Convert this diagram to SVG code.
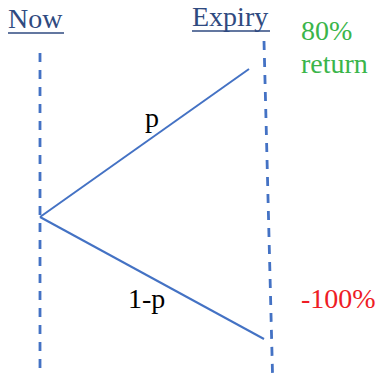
<svg xmlns="http://www.w3.org/2000/svg" width="378" height="373" viewBox="0 0 378 373">
<style>
text{font-family:"Liberation Serif","Times New Roman",serif;font-size:28px}
.hdr{fill:#2F4A80}
.ul{stroke:#2F4A80;stroke-width:1.3}
.dash{stroke:#4472C4;stroke-width:2.8;stroke-dasharray:9,8;fill:none}
.ln{stroke:#4472C4;stroke-width:2;fill:none}
</style>
<g id="now">
<text class="hdr" x="8" y="28">Now</text>
<line class="ul" x1="8" y1="33" x2="64" y2="33"/>
</g>
<g id="expiry">
<text class="hdr" x="192" y="26">Expiry</text>
<line class="ul" x1="192" y1="31" x2="270" y2="31"/>
</g>
<g id="win">
<text x="301" y="40" fill="#3AB54A">80%</text>
<text x="301" y="73" fill="#3AB54A">return</text>
</g>
<g id="loss">
<text x="301" y="308" fill="#EE1C25">-100%</text>
</g>
<g id="connectors">
<line class="dash" x1="40" y1="53" x2="40" y2="373"/>
<line class="dash" x1="264" y1="41" x2="272.5" y2="373"/>
<line class="ln" x1="40" y1="217" x2="249" y2="69"/>
<line class="ln" x1="40" y1="217" x2="264" y2="339"/>
<text x="145" y="127">p</text>
<text x="128" y="308">1-p</text>
</g>
</svg>
